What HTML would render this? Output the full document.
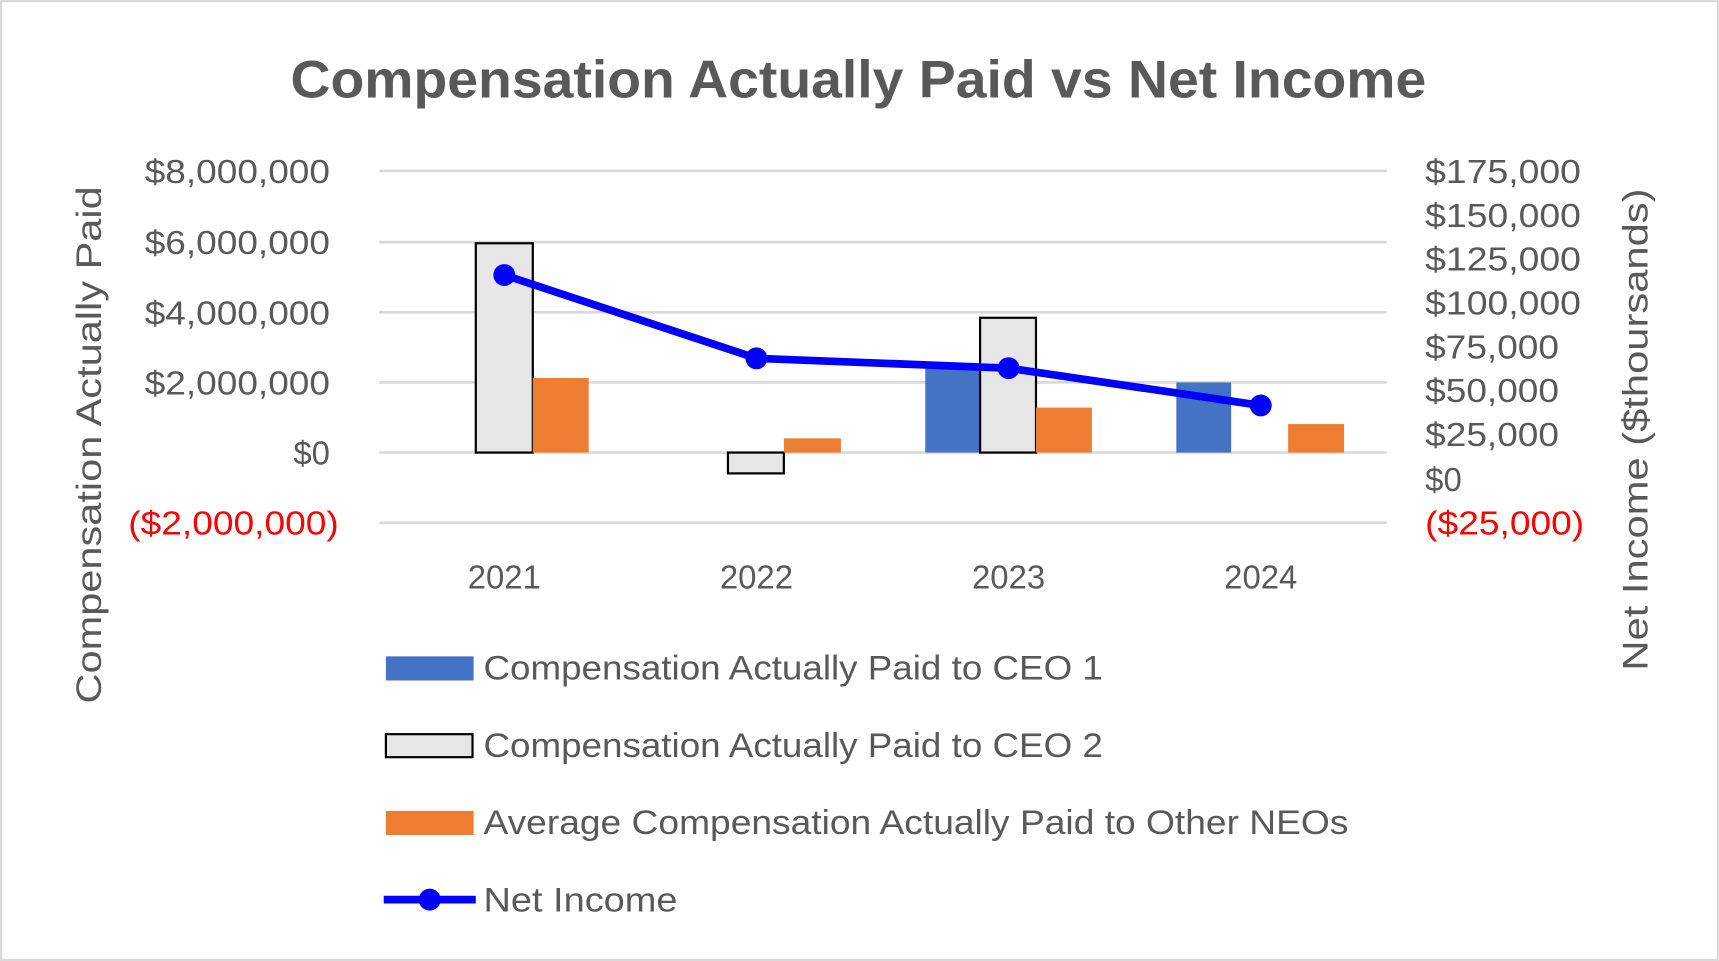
<!DOCTYPE html>
<html><head><meta charset="utf-8"><style>
html,body{margin:0;padding:0;background:#fff;}
svg{display:block;}
text{font-family:"Liberation Sans",sans-serif;fill:#595959;}
</style></head><body>
<svg width="1719" height="961" viewBox="0 0 1568 877" preserveAspectRatio="none" xmlns="http://www.w3.org/2000/svg">
<rect x="1" y="1" width="1566" height="875" fill="#fff" stroke="#d9d9d9" stroke-width="2"/>
<text x="265" y="89" textLength="1036" lengthAdjust="spacingAndGlyphs" font-size="48" font-weight="bold">Compensation Actually Paid vs Net Income</text>
<g stroke="#d9d9d9" stroke-width="2.5">
<line x1="346" x2="1265" y1="156" y2="156"/><line x1="346" x2="1265" y1="221" y2="221"/>
<line x1="346" x2="1265" y1="285" y2="285"/><line x1="346" x2="1265" y1="349" y2="349"/>
<line x1="346" x2="1265" y1="413" y2="413"/><line x1="346" x2="1265" y1="477" y2="477"/>
</g>
<g font-size="30">
<text x="132" y="167" textLength="169" lengthAdjust="spacingAndGlyphs">$8,000,000</text>
<text x="132" y="232" textLength="169" lengthAdjust="spacingAndGlyphs">$6,000,000</text>
<text x="132" y="296" textLength="169" lengthAdjust="spacingAndGlyphs">$4,000,000</text>
<text x="132" y="360" textLength="169" lengthAdjust="spacingAndGlyphs">$2,000,000</text>
<text x="301" y="424" text-anchor="end">$0</text>
<text x="117" y="488" textLength="192" lengthAdjust="spacingAndGlyphs" style="fill:#ff0000">($2,000,000)</text>
</g>
<g font-size="30">
<text x="1300" y="167" textLength="142" lengthAdjust="spacingAndGlyphs">$175,000</text>
<text x="1300" y="207" textLength="142" lengthAdjust="spacingAndGlyphs">$150,000</text>
<text x="1300" y="247" textLength="142" lengthAdjust="spacingAndGlyphs">$125,000</text>
<text x="1300" y="287" textLength="142" lengthAdjust="spacingAndGlyphs">$100,000</text>
<text x="1300" y="327" textLength="122" lengthAdjust="spacingAndGlyphs">$75,000</text>
<text x="1300" y="367" textLength="122" lengthAdjust="spacingAndGlyphs">$50,000</text>
<text x="1300" y="407" textLength="122" lengthAdjust="spacingAndGlyphs">$25,000</text>
<text x="1300" y="448">$0</text>
<text x="1300" y="488" textLength="145" lengthAdjust="spacingAndGlyphs" style="fill:#ff0000">($25,000)</text>
</g>
<text transform="translate(92,642) rotate(-90)" font-size="32" textLength="472" lengthAdjust="spacingAndGlyphs">Compensation Actually Paid</text>
<text transform="translate(1503,612) rotate(-90)" font-size="32" textLength="440" lengthAdjust="spacingAndGlyphs">Net Income ($thoursands)</text>
<rect x="434" y="222" width="52" height="191" fill="#e7e6e6" stroke="#000" stroke-width="2"/>
<rect x="486" y="345" width="51" height="68" fill="#ed7d31"/>
<rect x="664" y="413" width="51" height="19" fill="#e7e6e6" stroke="#000" stroke-width="2"/>
<rect x="715" y="400" width="52" height="13" fill="#ed7d31"/>
<rect x="844" y="333" width="50" height="80" fill="#4472c4"/>
<rect x="894" y="290" width="51" height="123" fill="#e7e6e6" stroke="#000" stroke-width="2"/>
<rect x="945" y="372" width="51" height="41" fill="#ed7d31"/>
<rect x="1073" y="349" width="50" height="64" fill="#4472c4"/>
<rect x="1175" y="387" width="51" height="26" fill="#ed7d31"/>
<polyline points="460,251 690,327 920,336 1150,370" fill="none" stroke="#0000ff" stroke-width="7" stroke-linejoin="round"/>
<g fill="#0000ff"><circle cx="460" cy="251" r="10"/><circle cx="690" cy="327" r="10"/><circle cx="920" cy="336" r="10"/><circle cx="1150" cy="370" r="10"/></g>
<g font-size="30" text-anchor="middle">
<text x="460" y="537">2021</text><text x="690" y="537">2022</text><text x="920" y="537">2023</text><text x="1150" y="537">2024</text>
</g>
<rect x="352" y="599" width="80" height="22" fill="#4472c4"/>
<rect x="352" y="670" width="79" height="21" fill="#e7e6e6" stroke="#000" stroke-width="2"/>
<rect x="352" y="740" width="80" height="22" fill="#ed7d31"/>
<line x1="350" y1="821" x2="434" y2="821" stroke="#0000ff" stroke-width="7"/>
<circle cx="392" cy="821" r="10" fill="#0000ff"/>
<g font-size="31">
<text x="441" y="620" textLength="565" lengthAdjust="spacingAndGlyphs">Compensation Actually Paid to CEO 1</text>
<text x="441" y="691" textLength="565" lengthAdjust="spacingAndGlyphs">Compensation Actually Paid to CEO 2</text>
<text x="441" y="761" textLength="789" lengthAdjust="spacingAndGlyphs">Average Compensation Actually Paid to Other NEOs</text>
<text x="441" y="832" textLength="177" lengthAdjust="spacingAndGlyphs">Net Income</text>
</g>
</svg>
</body></html>
